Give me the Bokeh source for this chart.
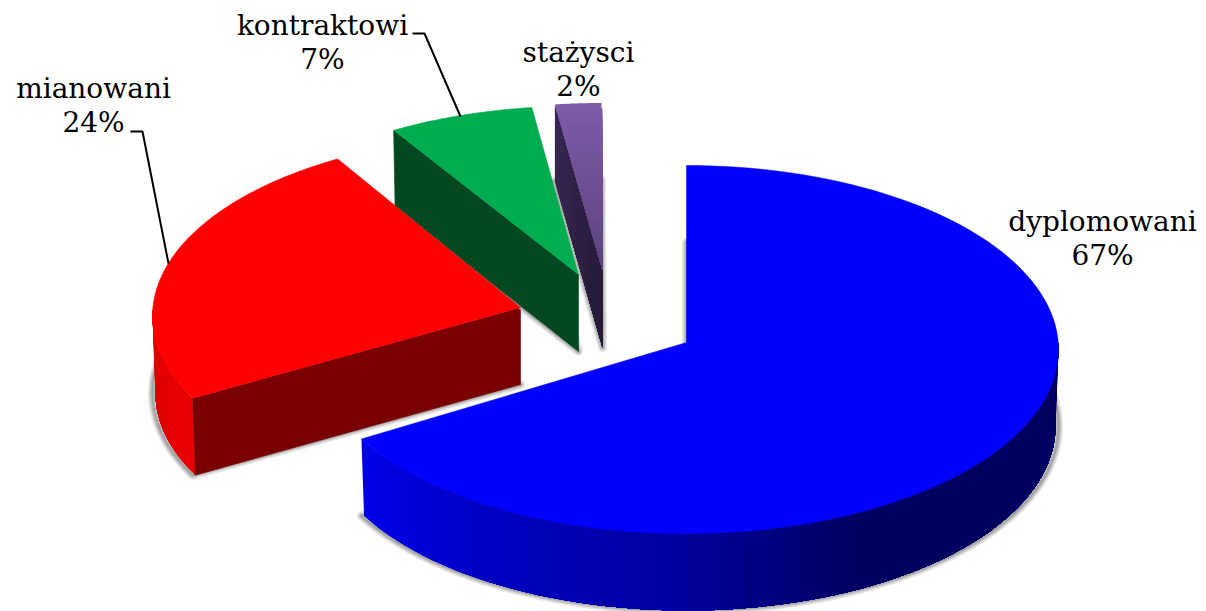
import math
from bokeh.plotting import figure
from bokeh.models import Range1d
from bokeh.core.properties import value
from bokeh.embed import file_html
from bokeh.resources import INLINE

# ---- data ----
categories = ["dyplomowani", "mianowani", "kontraktowi", "stażysci"]
shares = [67, 24, 7, 2]

# ---- look of each slice ----
top_colors = ["#0000ff", "#ff0000", "#00ac50", None]
cut_colors = [None, "#780000", "#034820", None]
apex = [(686, 342), (520, 307), (578, 274), (602, 270)]
centre = [(686, 349), (520, 315.5), (578, 289), (601, 286)]
radius_x = [372, 368, 372, 372]
radius_y = [184, 181, 183.5, 183.5]
depth = 77
twist = [0, 1.8, 2.6, 0.0, 0]  # angular distortion of the 3-D view at each boundary
blue_end_twist = -0.3

label_pos = [(1102, 220.5), (93, 87.5), (322, 24.5), (578, 51.5)]
line_gap = 34
FONT = value("DejaVu Serif")
FONT_SIZE = value("28px")


def mix(c1, c2, f):
    return "#%02x%02x%02x" % tuple(int(round(a + (b - a) * f)) for a, b in zip(c1, c2))


def pt(i, deg, drop=0.0):
    t = math.radians(deg)
    k = 1 - 0.008 * drop / depth
    return (centre[i][0] + radius_x[i] * k * math.sin(t),
            centre[i][1] - radius_y[i] * math.cos(t) + drop)


def arc(i, a, b, drop=0.0, n=120):
    return [pt(i, a + (b - a) * j / n, drop) for j in range(n + 1)]


cum = [0]
for s in shares:
    cum.append(cum[-1] + s * 3.6)
bounds = [c + tw for c, tw in zip(cum, twist)]
blue_end = cum[1] + blue_end_twist

p = figure(width=1206, height=611, x_range=Range1d(0, 1206), y_range=Range1d(611, 0),
           toolbar_location=None, output_backend="svg", min_border=0,
           outline_line_color=None, background_fill_color="white")
p.xaxis.visible = False
p.yaxis.visible = False
p.grid.visible = False


def poly(pts, **kw):
    p.patch([q[0] for q in pts], [q[1] for q in pts], **kw)


def outline(i):
    end = blue_end if i == 0 else bounds[i + 1]
    return arc(i, bounds[i], end) + [apex[i]]


def shadow(i):
    pts = [(x, y + depth) for x, y in outline(i)]
    for w in (9, 6, 4, 2):
        poly(pts, fill_alpha=0, line_color="#000000", line_alpha=0.10, line_width=w, line_join="round")


def strips(i, a, b, ramp, n=150):
    # painted in order, each band running on under the next ones, so no seams show
    for j in range(n):
        a0 = a + (b - a) * j / n
        top_edge = arc(i, a0, b, n=n - j)
        low_edge = arc(i, a0, b, depth, n=n - j)
        poly(top_edge + low_edge[::-1], fill_color=ramp((j + 0.5) / n), line_color=None)


def cut_face(i, deg, color):
    v = pt(i, deg)
    poly([v, apex[i], (apex[i][0], apex[i][1] + depth), pt(i, deg, depth)],
         fill_color=color, line_color=color, line_width=0.6)


# purple (stażysci)
shadow(3)
v = pt(3, bounds[3])
A = apex[3]
n = 24
for j in range(n):
    f0 = j / n
    a0 = (v[0] + (A[0] - v[0]) * f0, v[1] + (A[1] - v[1]) * f0)
    poly([a0, A, (A[0], A[1] + depth), (a0[0], a0[1] + depth)],
         fill_color=mix((0x38, 0x28, 0x52), (0x24, 0x19, 0x36), (j + 0.5) / n), line_color=None)
# purple top face: vertical gradient, each band reaching down to the apex
top = arc(3, bounds[3], bounds[4], n=40)
ymin = top[-1][1]
n = 30
for j in range(n):
    y0 = ymin + (A[1] - ymin) * j / n
    yl = max(y0, v[1])
    xl = v[0] + (A[0] - v[0]) * (yl - v[1]) / (A[1] - v[1])
    if j == 0:
        shape = top + [A]
    else:
        shape = [(xl, y0), (A[0], y0), A]
    poly(shape, fill_color=mix((0x7f, 0x5c, 0xa9), (0x5a, 0x42, 0x7c), (j + 0.5) / n), line_color=None)

# green (kontraktowi)
shadow(2)
cut_face(2, bounds[2], cut_colors[2])
poly(outline(2), fill_color=top_colors[2], line_color=top_colors[2], line_width=0.5)

# red (mianowani)
shadow(1)
strips(1, bounds[1], 272, lambda f: mix((0xea, 0, 0), (0xd6, 0, 0), f), n=20)
cut_face(1, bounds[1], cut_colors[1])
far = pt(1, bounds[2])
p.line([far[0] + 1, apex[1][0] + 1], [far[1] + 2, apex[1][1] + 2], line_color="#b4b4b4", line_width=2)
poly(outline(1), fill_color=top_colors[1], line_color=top_colors[1], line_width=0.5)

# blue (dyplomowani)
shadow(0)
stops = [(0.0, (0x00, 0x00, 0x60)), (0.42, (0x00, 0x00, 0x60)), (0.62, (0x00, 0x00, 0xa0)),
         (0.82, (0x00, 0x00, 0xc4)), (1.0, (0x00, 0x00, 0xea))]


def blue_ramp(f):
    for (f0, c0), (f1, c1) in zip(stops, stops[1:]):
        if f <= f1:
            return mix(c0, c1, (f - f0) / (f1 - f0))
    return mix(stops[-1][1], stops[-1][1], 0)


strips(0, blue_end, 88, lambda f: blue_ramp(1 - f), n=70)
poly(outline(0), fill_color=top_colors[0], line_color=top_colors[0], line_width=0.5)

# leader lines
p.line([130, 142, 168], [131, 131, 263], line_color="black", line_width=2)
p.line([412, 424, 460], [33, 33, 116], line_color="black", line_width=2)

# labels
for name, s, (x, y) in zip(categories, shares, label_pos):
    for txt, yy in ((name, y), (f"{s}%", y + line_gap)):
        p.text([x], [yy], text=[txt], text_font=FONT, text_font_size=FONT_SIZE,
               text_color="#000000", text_align="center", text_baseline="alphabetic")

open("out.html", "w").write(file_html(p, INLINE))
